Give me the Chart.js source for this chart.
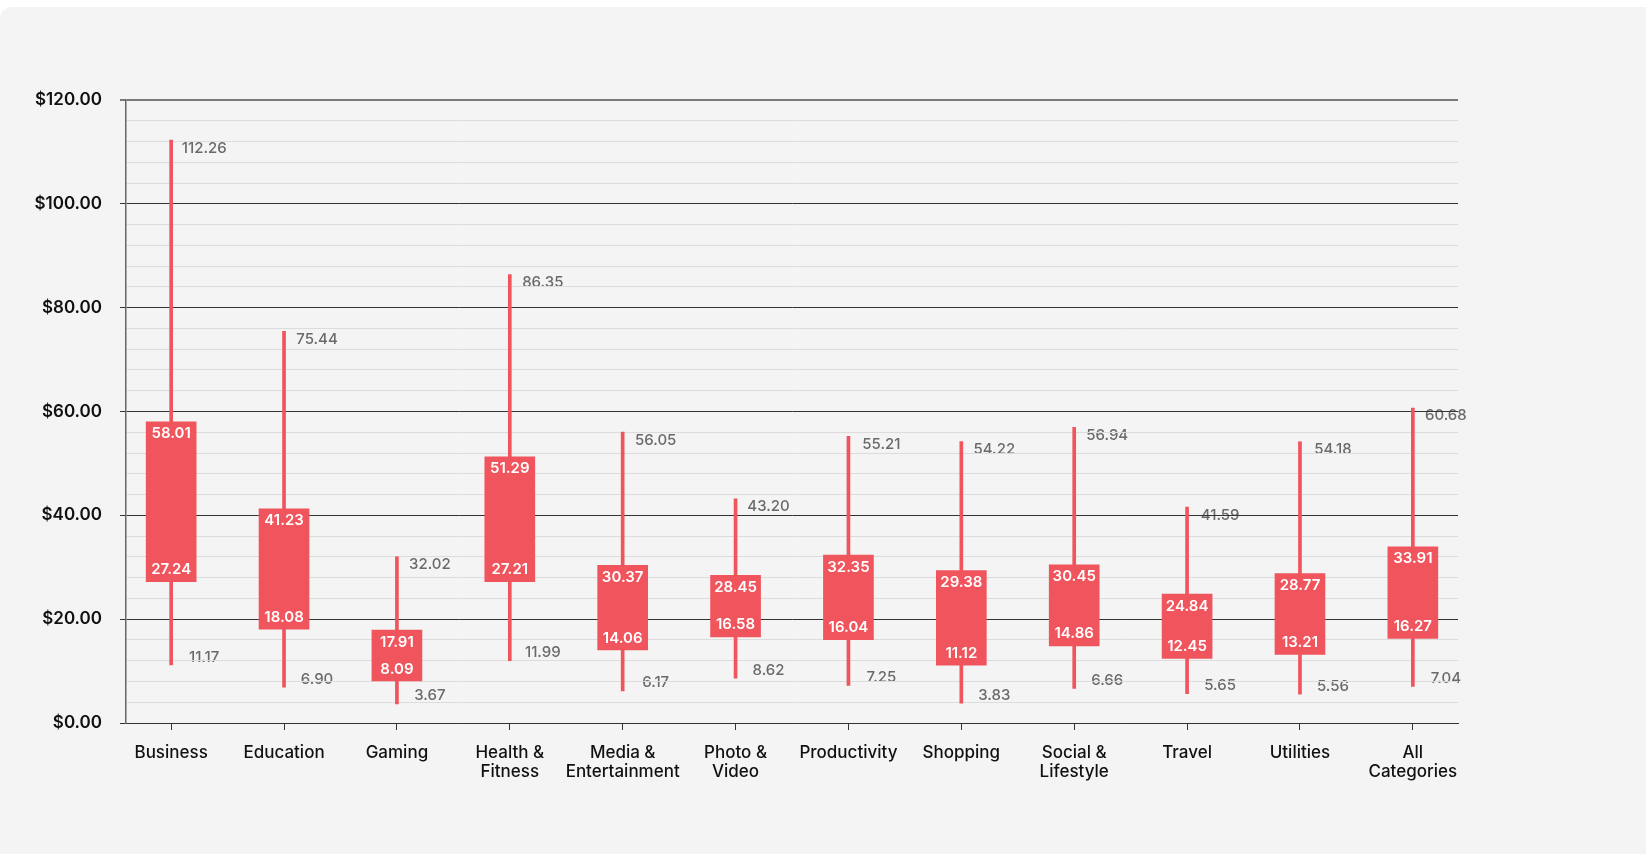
<!DOCTYPE html>
<html>
<head>
<meta charset="utf-8">
<script src="https://cdn.jsdelivr.net/npm/chart.js@4.4.1/dist/chart.umd.min.js"></script>
<style>
  html, body { margin: 0; padding: 0; background: #ffffff; }
  .card {
    position: absolute; left: 0; top: 7px; width: 1646px; height: 847px;
    background: #f4f4f4; border-top-left-radius: 12px;
  }
  #chart { position: absolute; left: 0; top: 0; }
</style>
</head>
<body>
<div class="card"></div>
<canvas id="chart" width="1646" height="854"></canvas>
<script>
const categories = [
  ['Business'], ['Education'], ['Gaming'], ['Health &', 'Fitness'],
  ['Media &', 'Entertainment'], ['Photo &', 'Video'], ['Productivity'],
  ['Shopping'], ['Social &', 'Lifestyle'], ['Travel'], ['Utilities'],
  ['All', 'Categories'],
];
const minValues = [11.17, 6.90, 3.67, 11.99, 6.17, 8.62, 7.25, 3.83, 6.66, 5.65, 5.56, 7.04];
const q1Values = [27.24, 18.08, 8.09, 27.21, 14.06, 16.58, 16.04, 11.12, 14.86, 12.45, 13.21, 16.27];
const q3Values = [58.01, 41.23, 17.91, 51.29, 30.37, 28.45, 32.35, 29.38, 30.45, 24.84, 28.77, 33.91];
const maxValues = [112.26, 75.44, 32.02, 86.35, 56.05, 43.20, 55.21, 54.22, 56.94, 41.59, 54.18, 60.68];

const RED = '#f0545c';
const FONT = 'Inter, "Noto Sans", sans-serif';

const valueLabels = {
  id: 'valueLabels',
  // grey whisker labels go under the grid, as in the original
  beforeDraw(chart) {
    const {ctx, scales: {x, y}} = chart;
    ctx.save();
    ctx.font = '500 15px ' + FONT;
    ctx.fillStyle = '#6a6a6a';
    ctx.textAlign = 'center';
    ctx.textBaseline = 'middle';
    categories.forEach((c, i) => {
      const px = x.getPixelForValue(i) + 33;
      ctx.fillText(maxValues[i].toFixed(2), px, y.getPixelForValue(maxValues[i]) + 8);
      ctx.fillText(minValues[i].toFixed(2), px, y.getPixelForValue(minValues[i]) - 8);
    });
    ctx.restore();
  },
  afterDatasetsDraw(chart) {
    const {ctx, scales: {x, y}} = chart;
    ctx.save();
    ctx.font = '600 15px ' + FONT;
    ctx.fillStyle = '#ffffff';
    ctx.textAlign = 'center';
    ctx.textBaseline = 'middle';
    categories.forEach((c, i) => {
      const px = x.getPixelForValue(i);
      ctx.fillText(q3Values[i].toFixed(2), px, y.getPixelForValue(q3Values[i]) + 12);
      ctx.fillText(q1Values[i].toFixed(2), px, y.getPixelForValue(q1Values[i]) - 12);
    });
    ctx.restore();
  },
};

const isMajor = (v) => v % 20 === 0;

new Chart(document.getElementById('chart'), {
  type: 'bar',
  data: {
    datasets: [
      {
        label: 'Range',
        data: categories.map((c, i) => ({x: i, y: [minValues[i], maxValues[i]]})),
        backgroundColor: RED,
        barThickness: 3,
        grouped: false,
        order: 2,
      },
      {
        label: 'Interquartile',
        data: categories.map((c, i) => ({x: i, y: [q1Values[i], q3Values[i]]})),
        backgroundColor: RED,
        barThickness: 50,
        grouped: false,
        order: 1,
      },
    ],
  },
  options: {
    responsive: false,
    devicePixelRatio: 1,
    animation: false,
    layout: {padding: {top: 100, right: 188, left: 0, bottom: 0}},
    plugins: {legend: {display: false}, tooltip: {enabled: false}},
    scales: {
      x: {
        type: 'linear',
        min: -0.4,
        max: 11.4,
        offset: false,
        afterBuildTicks: (scale) => {
          scale.ticks = categories.map((c, i) => ({value: i}));
        },
        afterFit: (scale) => { scale.height = 131; },
        grid: {
          offset: false,
          drawOnChartArea: false,
          drawTicks: true,
          tickLength: 7,
          tickColor: '#333333',
        },
        border: {display: true, color: '#333333', width: 1},
        ticks: {
          autoSkip: false,
          maxRotation: 0,
          padding: 14,
          color: '#111111',
          font: {family: FONT, size: 17, weight: '500', lineHeight: 1.1},
          callback: (v) => categories[v],
        },
      },
      y: {
        min: 0,
        max: 120,
        afterFit: (scale) => { scale.width = 126; },
        grid: {
          color: (c) => c.tick.value === 120 ? '#7a7a7a' : (isMajor(c.tick.value) ? '#333333' : '#dcdcdc'),
          lineWidth: (c) => c.tick.value === 120 ? 2 : 1,
          tickColor: (c) => isMajor(c.tick.value) ? (c.tick.value === 120 ? '#7a7a7a' : '#333333') : 'rgba(0,0,0,0)',
          tickLength: 6,
        },
        border: {display: true, color: '#666666', width: 1.5},
        ticks: {
          stepSize: 4,
          autoSkip: false,
          maxTicksLimit: 100,
          padding: 18,
          color: '#111111',
          font: {family: FONT, size: 17, weight: '600'},
          callback: (v) => isMajor(v) ? '$' + v.toFixed(2) : '',
        },
      },
    },
  },
  plugins: [valueLabels],
});
</script>
</body>
</html>
